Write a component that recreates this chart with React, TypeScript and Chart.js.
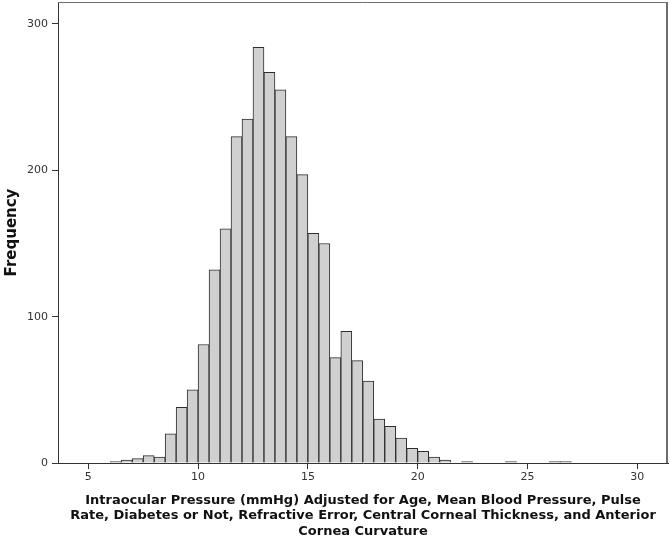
import React, { useEffect, useRef } from "react";
import { Chart, registerables } from "chart.js";

Chart.register(...registerables);

// Histogram bins (start of each 0.5 mmHg bin)
const binStarts: number[] = [
  6.0, 6.5, 7.0, 7.5, 8.0, 8.5, 9.0, 9.5, 10.0, 10.5, 11.0, 11.5, 12.0, 12.5,
  13.0, 13.5, 14.0, 14.5, 15.0, 15.5, 16.0, 16.5, 17.0, 17.5, 18.0, 18.5, 19.0,
  19.5, 20.0, 20.5, 21.0, 21.5, 22.0, 22.5, 23.0, 23.5, 24.0, 24.5, 25.0, 25.5,
  26.0, 26.5,
];
const binWidth = 0.5;
const frequencies: number[] = [
  1, 2, 3, 5, 4, 20, 38, 50, 81, 132, 160, 223, 235, 284,
  267, 255, 223, 197, 157, 150, 72, 90, 70, 56, 30, 25, 17,
  10, 8, 4, 2, 0, 1, 0, 0, 0, 1, 0, 0, 0,
  1, 1,
];
const xTickValues: number[] = [5, 10, 15, 20, 25, 30];
const yTickValues: number[] = [0, 100, 200, 300];
const xTitleLines: string[] = [
  "Intraocular Pressure (mmHg) Adjusted for Age, Mean Blood Pressure, Pulse",
  "Rate, Diabetes or Not, Refractive Error, Central Corneal Thickness, and Anterior",
  "Cornea Curvature",
];
const yTitle = "Frequency";

const frame = {
  id: "frame",
  afterDatasetsDraw(chart: any) {
    const { ctx, chartArea } = chart;
    ctx.save();
    ctx.strokeStyle = "#6e6e6e";
    ctx.lineWidth = 1;
    ctx.beginPath();
    ctx.moveTo(chartArea.left, chartArea.top + 0.5);
    ctx.lineTo(chartArea.right - 0.5, chartArea.top + 0.5);
    ctx.stroke();
    ctx.lineWidth = 2;
    ctx.beginPath();
    ctx.moveTo(chartArea.right - 1, chartArea.top);
    ctx.lineTo(chartArea.right - 1, chartArea.bottom);
    ctx.stroke();
    ctx.restore();
  },
};

export default function App() {
  const ref = useRef<HTMLCanvasElement | null>(null);
  useEffect(() => {
    document.body.style.margin = "0";
    const canvas = ref.current;
    if (!canvas) return;
    const points = binStarts.map((s, i) => ({ x: s + binWidth / 2, y: frequencies[i] }));
    const chart = new Chart(canvas, {
      type: "bar",
      data: {
        datasets: [
          {
            data: points as any,
            backgroundColor: "#d0d0d0",
            borderColor: "#2e2e2e",
            borderWidth: 1,
            barPercentage: 1,
            categoryPercentage: 1,
          },
        ],
      },
      options: {
        responsive: false,
        animation: false,
        devicePixelRatio: 1,
        layout: { padding: { top: 2, right: 2, left: 0, bottom: 0 } },
        plugins: {
          legend: { display: false },
          tooltip: { enabled: false },
        },
        scales: {
          x: {
            type: "linear",
            min: 3.62,
            max: 31.4,
            offset: false,
            afterFit(scale: any) {
              scale.height = 76;
              scale.paddingLeft = 0;
              scale.paddingRight = 0;
            },
            afterBuildTicks(scale: any) {
              scale.ticks = xTickValues.map((v) => ({ value: v }));
            },
            grid: {
              offset: false,
              drawOnChartArea: false,
              drawTicks: true,
              tickLength: 6,
              tickColor: "#333",
            },
            border: { display: true, color: "#333", width: 1 },
            ticks: {
              color: "#333",
              padding: 2,
              maxRotation: 0,
              font: { family: "DejaVu Sans", size: 11 },
            },
            title: {
              display: true,
              text: xTitleLines,
              color: "#111",
              padding: { top: 0, bottom: 0 },
              font: { family: "DejaVu Sans", size: 13, weight: "bold", lineHeight: "15.5px" } as any,
            },
          },
          y: {
            type: "linear",
            min: 0,
            max: 315,
            afterFit(scale: any) {
              scale.width = 58;
              scale.paddingTop = 0;
              scale.paddingBottom = 0;
            },
            afterBuildTicks(scale: any) {
              scale.ticks = yTickValues.map((v) => ({ value: v }));
            },
            grid: {
              drawOnChartArea: false,
              drawTicks: true,
              tickLength: 6,
              tickColor: "#333",
            },
            border: { display: true, color: "#333", width: 1 },
            ticks: {
              color: "#333",
              padding: 4,
              font: { family: "DejaVu Sans", size: 11 },
            },
            title: {
              display: true,
              text: yTitle,
              color: "#111",
              padding: { top: 3, bottom: 0 },
              font: { family: "DejaVu Sans", size: 15, weight: "bold", lineHeight: "18px" } as any,
            },
          },
        },
      },
      plugins: [frame],
    });
    return () => chart.destroy();
  }, []);
  return (
    <div style={{ width: 670, height: 539, background: "#fff" }}>
      <canvas ref={ref} width={670} height={539} />
    </div>
  );
}
